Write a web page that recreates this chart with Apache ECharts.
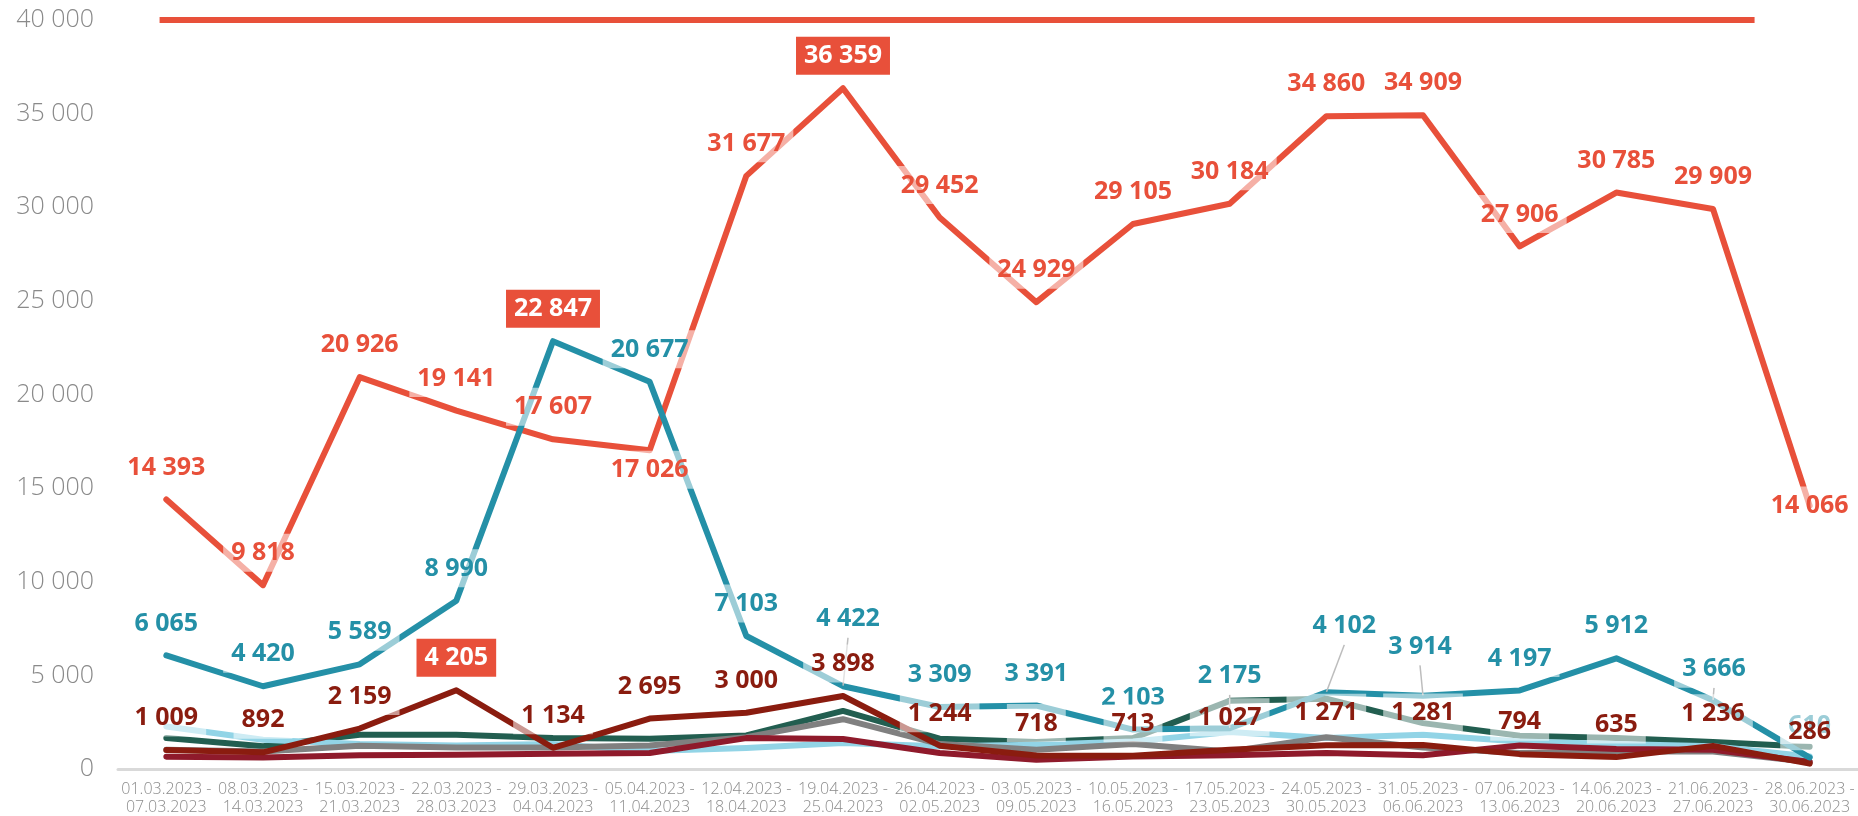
<!DOCTYPE html>
<html><head><meta charset="utf-8">
<script src="https://cdn.jsdelivr.net/npm/echarts@6/dist/echarts.min.js"></script>
<style>html,body{margin:0;padding:0;background:#fff}#c{width:1858px;height:816px}</style>
</head><body><div id="c"></div>
<script>
// ---------- DATA ----------
const categories = [
  '01.03.2023 -\n07.03.2023','08.03.2023 -\n14.03.2023','15.03.2023 -\n21.03.2023',
  '22.03.2023 -\n28.03.2023','29.03.2023 -\n04.04.2023','05.04.2023 -\n11.04.2023',
  '12.04.2023 -\n18.04.2023','19.04.2023 -\n25.04.2023','26.04.2023 -\n02.05.2023',
  '03.05.2023 -\n09.05.2023','10.05.2023 -\n16.05.2023','17.05.2023 -\n23.05.2023',
  '24.05.2023 -\n30.05.2023','31.05.2023 -\n06.06.2023','07.06.2023 -\n13.06.2023',
  '14.06.2023 -\n20.06.2023','21.06.2023 -\n27.06.2023','28.06.2023 -\n30.06.2023'
];
const seriesRed      = [14393, 9818, 20926, 19141, 17607, 17026, 31677, 36359, 29452, 24929, 29105, 30184, 34860, 34909, 27906, 30785, 29909, 14066];
const seriesTeal     = [6065, 4420, 5589, 8990, 22847, 20677, 7103, 4422, 3309, 3391, 2103, 2175, 4102, 3914, 4197, 5912, 3666, 610];
const seriesDarkRed  = [1009, 892, 2159, 4205, 1134, 2695, 3000, 3898, 1244, 718, 713, 1027, 1271, 1281, 794, 635, 1236, 286];
const seriesGreen    = [1650, 1210, 1830, 1830, 1650, 1620, 1790, 3100, 1620, 1440, 1650, 3640, 3750, 2450, 1780, 1650, 1440, 1190];
const seriesLightBlue= [2270, 1560, 1330, 1260, 1330, 960, 1120, 1390, 1210, 1300, 1470, 1970, 1650, 1830, 1470, 1330, 1210, 670];
const seriesGray     = [1030, 940, 1240, 1150, 1150, 1260, 1700, 2660, 1330, 1030, 1330, 940, 1700, 1150, 850, 940, 940, 370];
const seriesCrimson  = [660, 620, 730, 760, 820, 850, 1650, 1600, 850, 500, 670, 730, 850, 730, 1260, 1070, 1030, 370];
const limitValue = 40000;
const limitRange = [-0.07, 16.43];   // in category units
const yTicks = {min: 0, max: 40000, step: 5000};

// ---------- STYLE ----------
const C = {red:'#E8503A', teal:'#2490A7', darkRed:'#8A1C0F', green:'#225E50', lightBlue:'#92D4E6', gray:'#808080', crimson:'#8F1A2B'};
const FONT = '"Open Sans", "Noto Sans", sans-serif';
const fmt = v => String(Math.round(v)).replace(/\B(?=(\d{3})+(?!\d))/g, ' ');

const baseLabel = {
  show: true, position: 'top', distance: 13,
  fontFamily: FONT, fontWeight: 'bold', fontSize: 25, lineHeight: 25,
  padding: [7, 8, 6, 8], backgroundColor: 'rgba(255,255,255,0.55)',
  formatter: p => fmt(p.value)
};
const boxStyle = {backgroundColor: C.red, color: '#fff'};

function lineSeries(name, vals, color, z) {
  return {
    name, type: 'line', data: vals, symbol: 'none', z: z || 3,
    lineStyle: {color, width: 6, cap: 'round', join: 'round'},
    itemStyle: {color}, label: {show: false}, emphasis: {disabled: true}, silent: true
  };
}
function labelSeries(name, vals, color, overrides, moves) {
  const maxIdx = vals.indexOf(Math.max(...vals));
  return {
    name: name + '_labels', type: 'line', z: 10,
    symbol: 'circle', symbolSize: 1,
    itemStyle: {color: 'rgba(0,0,0,0)'},
    lineStyle: {width: 0, opacity: 0},
    emphasis: {disabled: true}, silent: true,
    label: Object.assign({}, baseLabel, {color}),
    labelLine: {show: false, lineStyle: {color: '#bdbdbd', width: 1.5}},
    labelLayout: p => { const m = moves[p.dataIndex]; return m ? {dx: m[0], dy: m[1]} : {}; },
    data: vals.map((v, i) => {
      const item = {value: v};
      let lab = overrides[i] ? Object.assign({}, overrides[i]) : null;
      if (i === maxIdx) lab = Object.assign(lab || {}, boxStyle);
      if (lab) item.label = lab;
      if (moves[i]) item.labelLine = {show: true};
      return item;
    })
  };
}

const option = {
  animation: false,
  backgroundColor: '#fff',
  grid: {left: 118, right: 0, top: 20, bottom: 45, containLabel: false},
  xAxis: [{
    type: 'category', data: categories, boundaryGap: true,
    axisTick: {show: false},
    axisLine: {lineStyle: {color: '#d9d9d9', width: 3}},
    axisLabel: {interval: 0, color: '#8c8c8c', fontFamily: FONT, fontWeight: 300, fontSize: 16, lineHeight: 18, margin: 11},
    splitLine: {show: false}
  }, {
    type: 'value', min: -0.5, max: categories.length - 0.5, show: false
  }],
  yAxis: {
    type: 'value', min: yTicks.min, max: yTicks.max, interval: yTicks.step,
    axisLine: {show: false}, axisTick: {show: false}, splitLine: {show: false},
    axisLabel: {color: '#8a8a8a', fontFamily: FONT, fontWeight: 300, fontSize: 25, margin: 24, formatter: fmt}
  },
  series: [
    {name: 'limit', type: 'line', xAxisIndex: 1, symbol: 'none', clip: false, z: 2, silent: true,
     data: [[limitRange[0], limitValue], [limitRange[1], limitValue]],
     lineStyle: {color: C.red, width: 6}},
    lineSeries('red', seriesRed, C.red, 4),
    lineSeries('teal', seriesTeal, C.teal, 4),
    lineSeries('darkRed', seriesDarkRed, C.darkRed, 4),
    lineSeries('green', seriesGreen, C.green, 3),
    lineSeries('lightBlue', seriesLightBlue, C.lightBlue, 3),
    lineSeries('gray', seriesGray, C.gray, 3),
    lineSeries('crimson', seriesCrimson, C.crimson, 3),
    labelSeries('red', seriesRed, C.red,
      {0: {offset: [-33, 0]}, 1: {offset: [-8, -1]}, 5: {position: 'bottom', distance: 0}, 17: {position: 'inside'}}, {}),
    labelSeries('teal', seriesTeal, C.teal,
      {14: {offset: [10, 4]}},
      {7: [5, -35], 11: [0, -20], 12: [18, -34], 13: [-3, -17], 16: [1, 1]}),
    labelSeries('darkRed', seriesDarkRed, C.darkRed, {}, {})
  ]
};
const chart = echarts.init(document.getElementById('c'), null, {renderer: 'canvas'});
chart.setOption(option);
</script></body></html>
